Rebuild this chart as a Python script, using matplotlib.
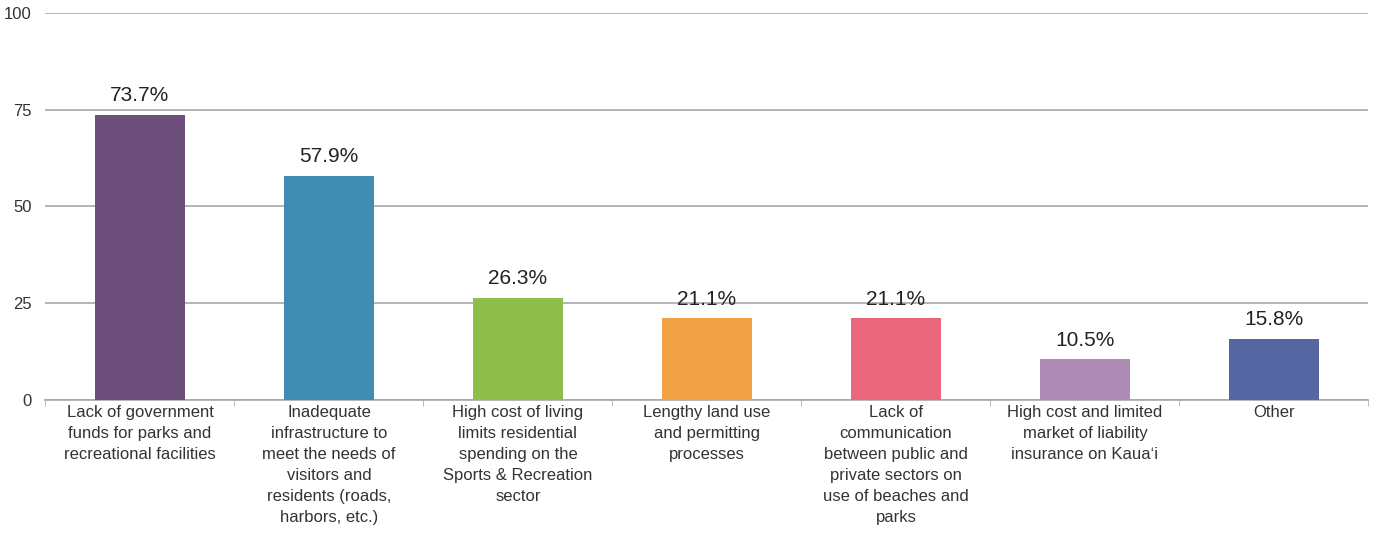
import numpy as np
import matplotlib.pyplot as plt

plt.rcParams['font.family'] = ['Liberation Sans', 'DejaVu Sans']

categories = [
    "Lack of government\nfunds for parks and\nrecreational facilities",
    "Inadequate\ninfrastructure to\nmeet the needs of\nvisitors and\nresidents (roads,\nharbors, etc.)",
    "High cost of living\nlimits residential\nspending on the\nSports & Recreation\nsector",
    "Lengthy land use\nand permitting\nprocesses",
    "Lack of\ncommunication\nbetween public and\nprivate sectors on\nuse of beaches and\nparks",
    "High cost and limited\nmarket of liability\ninsurance on Kaua\u02bbi",
    "Other",
]
values = [73.7, 57.9, 26.3, 21.1, 21.1, 10.5, 15.8]
colors = ["#6d4f7c", "#3f8db2", "#8fbd4c", "#f0a244", "#e8677d", "#ae8cb6", "#5566a2"]

fig = plt.figure(figsize=(13.78, 5.36), dpi=100)
ax = fig.add_axes([0.033, 0.254, 0.96, 0.722])

x = np.arange(len(values))
ax.bar(x, values, width=0.48, color=colors, zorder=3)
for xi, v in zip(x, values):
    ax.text(xi, v + 2.5, "%.1f%%" % v, ha='center', va='bottom', fontsize=15, color='#222222')

ax.set_xlim(-0.5, len(values) - 0.5)
ax.set_ylim(0, 100)
ax.set_yticks([0, 25, 50, 75, 100])
ax.yaxis.grid(True, color='#a8a8a8', linewidth=1.2, zorder=0)
ax.tick_params(axis='y', length=0, labelsize=12, colors='#333333', pad=10)

ax.set_xticks(x)
ax.set_xticklabels(categories, fontsize=12, color='#333333', linespacing=1.5)
ax.set_xticks(np.arange(len(values) + 1) - 0.5, minor=True)
ax.tick_params(axis='x', which='major', length=0, pad=4)
ax.tick_params(axis='x', which='minor', length=4, color='#b0b0b0')

for s in ['top', 'right', 'left']:
    ax.spines[s].set_visible(False)
ax.spines['bottom'].set_color('#a8a8a8')
ax.spines['bottom'].set_linewidth(1.2)

fig.savefig("out.png", dpi=100)
